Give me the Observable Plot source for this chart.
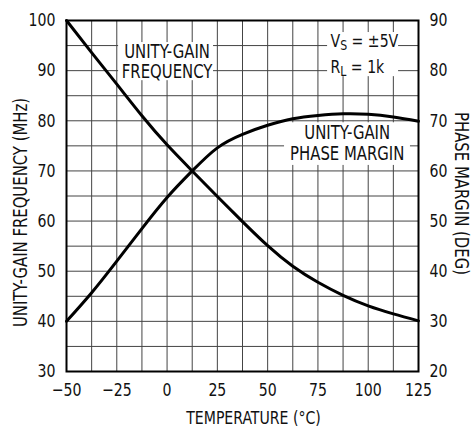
<!DOCTYPE html>
<html>
<head>
<meta charset="utf-8">
<script src="https://cdn.jsdelivr.net/npm/d3@7"></script>
<script src="https://cdn.jsdelivr.net/npm/@observablehq/plot@0.6"></script>
<style>
  html, body { margin: 0; padding: 0; background: #fff; }
  #chart svg { display: block; }
</style>
</head>
<body>
<div id="chart"></div>
<script>
// --- data ---
const temperatures = [-50, -37.5, -25, -12.5, 0, 12.5, 25, 37.5, 50, 62.5, 75, 87.5, 100, 112.5, 125];
const unityGainFreqMHz = [100, 93.6, 87.3, 81.0, 75.2, 70.0, 64.9, 59.9, 55.1, 51.0, 47.8, 45.2, 43.1, 41.5, 40.1];
const phaseMarginDeg = [30, 35.7, 42.0, 48.5, 54.7, 60, 64.6, 67.3, 69.1, 70.4, 71.05, 71.4, 71.3, 70.75, 69.9];

const xTicks = [-50, -25, 0, 25, 50, 75, 100, 125];
const xGrid = d3.range(-50, 125.01, 12.5);
const leftTicks = [30, 40, 50, 60, 70, 80, 90, 100];
const yGrid = d3.range(30, 100.01, 5);
const phaseOffset = 10; // right axis (DEG) = left axis (MHz) - 10

const xLabel = "TEMPERATURE (°C)";
const yLeftLabel = "UNITY-GAIN FREQUENCY (MHz)";
const yRightLabel = "PHASE MARGIN (DEG)";

// annotation labels (data coordinates: °C, MHz)
const annText   = ["UNITY-GAIN", "FREQUENCY", "UNITY-GAIN", "PHASE MARGIN", "VS = ±5V", "RL = 1k"];
const annX      = [0, 0, 89.55, 89.55, 81.25, 81.25];
const annY      = [93.7, 89.7, 77.65, 73.3, 95.9, 90.6];
const annAnchor = ["middle", "middle", "middle", "middle", "start", "start"];
// white backgrounds behind annotations
const boxX1 = [-24.1, 58.4, 79.8];
const boxX2 = [23.1, 121.0, 115.1];
const boxY1 = [88.0, 71.1, 88.8];
const boxY2 = [95.6, 79.6, 97.6];

const freq = temperatures.map((t, i) => ({t, v: unityGainFreqMHz[i]}));
const phase = temperatures.map((t, i) => ({t, v: phaseMarginDeg[i]}));
const ann = annText.map((s, i) => ({s, x: annX[i], y: annY[i], a: annAnchor[i]}));
const boxes = boxX1.map((x1, i) => ({x1, x2: boxX2[i], y1: boxY1[i], y2: boxY2[i]}));

const FONT = "'DejaVu Sans Condensed', 'DejaVu Sans', sans-serif";

const chart = Plot.plot({
  width: 473,
  height: 430,
  marginLeft: 66,
  marginRight: 55,
  marginTop: 20,
  marginBottom: 59,
  style: {fontFamily: FONT, fontSize: "18px", color: "#111", background: "#fff"},
  x: {domain: [-50, 125]},
  y: {domain: [30, 100]},
  marks: [
    Plot.gridX(xGrid, {stroke: "#444", strokeOpacity: 1, strokeWidth: 1}),
    Plot.gridY(yGrid, {stroke: "#444", strokeOpacity: 1, strokeWidth: 1}),
    Plot.rect(boxes, {x1: "x1", x2: "x2", y1: "y1", y2: "y2", fill: "white"}),
    Plot.line(freq, {x: "t", y: "v", stroke: "black", strokeWidth: 3, curve: "natural"}),
    Plot.line(phase, {x: "t", y: d => d.v + phaseOffset, stroke: "black", strokeWidth: 3, curve: "natural"}),
    Plot.text(ann.filter(d => d.a === "middle"), {x: "x", y: "y", text: "s", textAnchor: "middle", lineAnchor: "middle", fontSize: 19, fill: "#111"}),
    Plot.text(ann.filter(d => d.a === "start"), {x: "x", y: "y", text: "s", textAnchor: "start", lineAnchor: "middle", fontSize: 18, fill: "#111"}),
    Plot.axisX({ticks: xTicks, tickSize: 0, tickPadding: 12, label: null, fontSize: 18}),
    Plot.axisY({ticks: leftTicks, anchor: "left", tickSize: 0, tickPadding: 11, label: null, fontSize: 18}),
    Plot.axisY({ticks: leftTicks, anchor: "right", tickSize: 0, tickPadding: 11, label: null, fontSize: 18, tickFormat: d => String(d - phaseOffset)}),
    Plot.text([xLabel], {frameAnchor: "bottom", text: d => d, dx: 11, dy: 47, textAnchor: "middle", lineAnchor: "middle", fontSize: 18, fill: "#111"}),
    Plot.text([yLeftLabel], {frameAnchor: "left", text: d => d, rotate: -90, dx: -46, dy: 16.5, textAnchor: "middle", lineAnchor: "middle", fontSize: 19, fill: "#111"}),
    Plot.text([yRightLabel], {frameAnchor: "right", text: d => d, rotate: 90, dx: 43, dy: -2.5, textAnchor: "middle", lineAnchor: "middle", fontSize: 19, fill: "#111"}),
    Plot.frame({stroke: "black", strokeWidth: 2})
  ]
});

document.getElementById("chart").appendChild(chart);

// subscripts for V_S and R_L
const subs = ["VS = ±5V", "RL = 1k"];
const ns = "http://www.w3.org/2000/svg";
chart.querySelectorAll("text").forEach(t => {
  const s = t.textContent;
  if (subs.includes(s) && t.children.length === 0) {
    t.textContent = "";
    const a = document.createElementNS(ns, "tspan"); a.textContent = s[0];
    const b = document.createElementNS(ns, "tspan"); b.textContent = s[1];
    b.setAttribute("dy", "3"); b.setAttribute("font-size", "14");
    const c = document.createElementNS(ns, "tspan"); c.textContent = s.slice(2);
    c.setAttribute("dy", "-3");
    t.append(a, b, c);
  }
});

// condense glyphs to mimic the narrow typeface of the original
const condense = 0.87;
chart.querySelectorAll("text").forEach(t => {
  const len = t.getComputedTextLength();
  if (len > 0) {
    t.setAttribute("textLength", (len * condense).toFixed(2));
    t.setAttribute("lengthAdjust", "spacingAndGlyphs");
  }
});
</script>
</body>
</html>
